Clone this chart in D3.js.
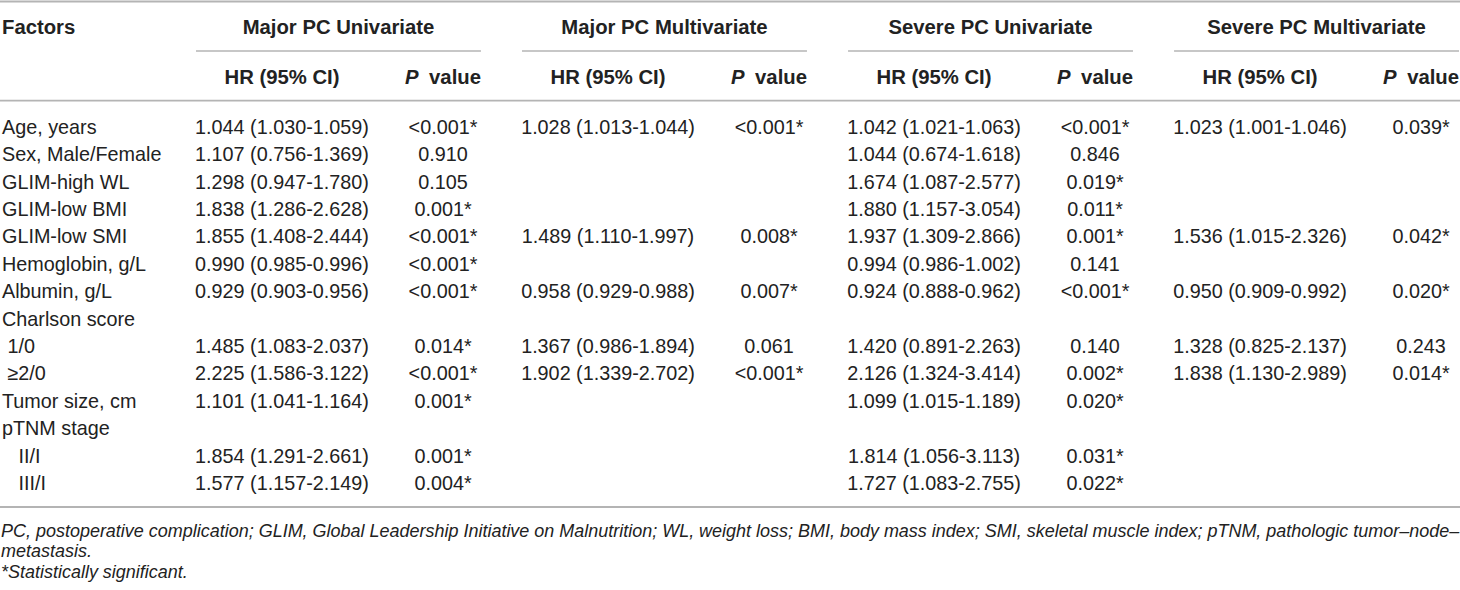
<!DOCTYPE html>
<html>
<head>
<meta charset="utf-8">
<script src="https://cdn.jsdelivr.net/npm/d3@7"></script>
<style>
  body { margin: 0; background: #fff; }
  svg { display: block; font-family: "Liberation Sans", Arial, Helvetica, sans-serif; }
</style>
</head>
<body>
<svg id="tableSVG"></svg>
<script>
// table content
const factors = ["Age, years", "Sex, Male/Female", "GLIM-high WL", "GLIM-low BMI", "GLIM-low SMI",
  "Hemoglobin, g/L", "Albumin, g/L", "Charlson score", " 1/0", " \u22652/0", "Tumor size, cm",
  "pTNM stage", "   II/I", "   III/I"];

const groups = ["Major PC Univariate", "Major PC Multivariate", "Severe PC Univariate", "Severe PC Multivariate"];

const majorUniHR = ["1.044 (1.030-1.059)", "1.107 (0.756-1.369)", "1.298 (0.947-1.780)", "1.838 (1.286-2.628)",
  "1.855 (1.408-2.444)", "0.990 (0.985-0.996)", "0.929 (0.903-0.956)", "", "1.485 (1.083-2.037)",
  "2.225 (1.586-3.122)", "1.101 (1.041-1.164)", "", "1.854 (1.291-2.661)", "1.577 (1.157-2.149)"];
const majorUniP = ["<0.001*", "0.910", "0.105", "0.001*", "<0.001*", "<0.001*", "<0.001*", "", "0.014*",
  "<0.001*", "0.001*", "", "0.001*", "0.004*"];

const majorMultiHR = ["1.028 (1.013-1.044)", "", "", "", "1.489 (1.110-1.997)", "", "0.958 (0.929-0.988)", "",
  "1.367 (0.986-1.894)", "1.902 (1.339-2.702)", "", "", "", ""];
const majorMultiP = ["<0.001*", "", "", "", "0.008*", "", "0.007*", "", "0.061", "<0.001*", "", "", "", ""];

const severeUniHR = ["1.042 (1.021-1.063)", "1.044 (0.674-1.618)", "1.674 (1.087-2.577)", "1.880 (1.157-3.054)",
  "1.937 (1.309-2.866)", "0.994 (0.986-1.002)", "0.924 (0.888-0.962)", "", "1.420 (0.891-2.263)",
  "2.126 (1.324-3.414)", "1.099 (1.015-1.189)", "", "1.814 (1.056-3.113)", "1.727 (1.083-2.755)"];
const severeUniP = ["<0.001*", "0.846", "0.019*", "0.011*", "0.001*", "0.141", "<0.001*", "", "0.140",
  "0.002*", "0.020*", "", "0.031*", "0.022*"];

const severeMultiHR = ["1.023 (1.001-1.046)", "", "", "", "1.536 (1.015-2.326)", "", "0.950 (0.909-0.992)", "",
  "1.328 (0.825-2.137)", "1.838 (1.130-2.989)", "", "", "", ""];
const severeMultiP = ["0.039*", "", "", "", "0.042*", "", "0.020*", "", "0.243", "0.014*", "", "", "", ""];

const footnotes = [
  "PC, postoperative complication; GLIM, Global Leadership Initiative on Malnutrition; WL, weight loss; BMI, body mass index; SMI, skeletal muscle index; pTNM, pathologic tumor\u2013node\u2013",
  "metastasis.",
  "*Statistically significant."
];

const width = 1460, height = 590;
const fontSize = 19.8;
const headSize = 20.3;
const textColor = "#222";
const ruleColor = "#b4b4b4";

const svg = d3.select("#tableSVG").attr("width", width).attr("height", height);

// one column block per group, HR centred left, P value centred right
const groupScale = d3.scaleBand()
  .domain(groups)
  .range([196, 1459])
  .paddingInner(0.126)
  .paddingOuter(0);

const subCol = d3.scaleOrdinal().domain(["hr", "p"]).range([86, 247]);

const rowScale = d3.scalePoint()
  .domain(d3.range(factors.length))
  .range([126.7, 483]);

const columns = [
  { group: groups[0], hr: majorUniHR, p: majorUniP },
  { group: groups[1], hr: majorMultiHR, p: majorMultiP },
  { group: groups[2], hr: severeUniHR, p: severeUniP },
  { group: groups[3], hr: severeMultiHR, p: severeMultiP }
];

// rules
const rules = svg.append("g").attr("stroke", ruleColor);
rules.append("line").attr("x1", 0).attr("x2", width).attr("y1", 1.5).attr("y2", 1.5).attr("stroke-width", 2.2);
rules.append("line").attr("x1", 0).attr("x2", width).attr("y1", 100.7).attr("y2", 100.7).attr("stroke-width", 1.8);
rules.append("line").attr("x1", 0).attr("x2", width).attr("y1", 507).attr("y2", 507).attr("stroke-width", 1.8);
rules.selectAll(".grp")
  .data(groups)
  .join("line")
  .attr("class", "grp")
  .attr("x1", d => groupScale(d))
  .attr("x2", d => groupScale(d) + groupScale.bandwidth())
  .attr("y1", 51).attr("y2", 51)
  .attr("stroke-width", 1.6);

// header
const header = svg.append("g")
  .attr("font-size", headSize)
  .attr("font-weight", "bold")
  .attr("fill", textColor);

header.append("text").attr("x", 2).attr("y", 34).text("Factors");

header.selectAll(".gtitle")
  .data(groups)
  .join("text")
  .attr("class", "gtitle")
  .attr("x", d => groupScale(d) + groupScale.bandwidth() / 2)
  .attr("y", 34)
  .attr("text-anchor", "middle")
  .text(d => d);

header.selectAll(".hrhead")
  .data(groups)
  .join("text")
  .attr("class", "hrhead")
  .attr("x", d => groupScale(d) + subCol("hr"))
  .attr("y", 84)
  .attr("text-anchor", "middle")
  .text("HR (95% CI)");

const phead = header.selectAll(".phead")
  .data(groups)
  .join("text")
  .attr("class", "phead")
  .attr("x", d => groupScale(d) + groupScale.bandwidth())
  .attr("y", 84)
  .attr("text-anchor", "end");
phead.append("tspan").attr("font-style", "italic").text("P");
phead.append("tspan").attr("dx", 5).text(" value");

// body
const body = svg.append("g")
  .attr("font-size", fontSize)
  .attr("fill", textColor);

body.selectAll(".factor")
  .data(factors)
  .join("text")
  .attr("class", "factor")
  .attr("x", 2)
  .attr("y", (d, i) => rowScale(i) + 7)
  .attr("xml:space", "preserve")
  .style("white-space", "pre")
  .text(d => d);

columns.forEach(col => {
  const x0 = groupScale(col.group);
  body.append("g").selectAll("text")
    .data(col.hr)
    .join("text")
    .attr("x", x0 + subCol("hr"))
    .attr("y", (d, i) => rowScale(i) + 7)
    .attr("text-anchor", "middle")
    .text(d => d);
  body.append("g").selectAll("text")
    .data(col.p)
    .join("text")
    .attr("x", x0 + subCol("p"))
    .attr("y", (d, i) => rowScale(i) + 7)
    .attr("text-anchor", "middle")
    .text(d => d);
});

// footnotes: size the first line so it runs to the right edge like the source
const notes = svg.append("g")
  .attr("font-size", 17.3)
  .attr("font-style", "italic")
  .attr("fill", textColor);
const noteText = notes.selectAll("text")
  .data(footnotes)
  .join("text")
  .attr("x", 1)
  .attr("y", (d, i) => 537 + i * 20.3)
  .text(d => d);
const firstLen = noteText.node().getComputedTextLength();
if (firstLen > 0) notes.attr("font-size", 17.3 * 1457 / firstLen);
</script>
</body>
</html>
